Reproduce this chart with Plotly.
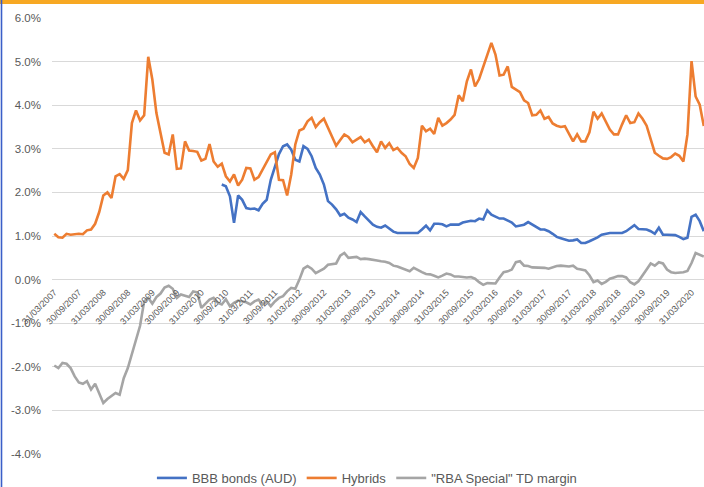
import pandas as pd
import plotly.graph_objects as go

# Month-end dates, Mar 2007 .. Jun 2020
dates = pd.date_range("2007-03-31", periods=160, freq="ME").strftime("%d/%m/%Y").tolist()
tick_labels = dates[::6]

y_tick_vals = [-4, -3, -2, -1, 0, 1, 2, 3, 4, 5, 6]
y_tick_text = ["-4.0%", "-3.0%", "-2.0%", "-1.0%", "0.0%", "1.0%", "2.0%", "3.0%", "4.0%", "5.0%", "6.0%"]

hybrids = [
    1.05, 0.97, 0.96, 1.05, 1.03, 1.04, 1.05, 1.04, 1.13, 1.15,
    1.28, 1.55, 1.93, 2.00, 1.87, 2.37, 2.42, 2.31, 2.51, 3.59,
    3.88, 3.65, 3.77, 5.11, 4.59, 3.82, 3.33, 2.91, 2.87, 3.33,
    2.54, 2.55, 3.17, 2.96, 2.95, 2.93, 2.73, 2.77, 3.11, 2.71,
    2.59, 2.66, 2.37, 2.25, 2.41, 2.16, 2.29, 2.56, 2.55, 2.29,
    2.35, 2.52, 2.68, 2.87, 2.92, 2.29, 2.28, 1.93, 2.41, 3.10,
    3.42, 3.46, 3.63, 3.71, 3.50, 3.61, 3.69, 3.48, 3.29, 3.07,
    3.20, 3.33, 3.27, 3.15, 3.21, 3.27, 3.15, 3.21, 3.06, 2.92,
    3.17, 3.02, 3.13, 2.97, 3.02, 2.91, 2.83, 2.65, 2.56, 2.79,
    3.53, 3.40, 3.46, 3.34, 3.71, 3.53, 3.59, 3.67, 3.78, 4.23,
    4.09, 4.55, 4.82, 4.43, 4.60, 4.86, 5.14, 5.43, 5.16, 4.68,
    4.70, 4.89, 4.42, 4.36, 4.30, 4.11, 4.05, 3.77, 3.78, 3.88,
    3.69, 3.73, 3.58, 3.53, 3.50, 3.52, 3.36, 3.17, 3.33, 3.17,
    3.17, 3.38, 3.85, 3.69, 3.81, 3.63, 3.44, 3.33, 3.33, 3.56,
    3.77, 3.59, 3.61, 3.81, 3.69, 3.53, 3.23, 2.91, 2.84, 2.78,
    2.77, 2.81, 2.89, 2.84, 2.71, 3.33, 5.01, 4.20, 4.01, 3.52,
]

bbb = [None] * 41 + [
    2.18, 2.14, 1.91, 1.30, 1.93, 1.83, 1.64, 1.62, 1.63,
    1.59, 1.74, 1.83, 2.29, 2.60, 2.88, 3.06, 3.10, 2.98, 2.75,
    2.71, 3.06, 3.00, 2.83, 2.56, 2.41, 2.18, 1.80, 1.72, 1.61,
    1.47, 1.51, 1.42, 1.38, 1.32, 1.55, 1.45, 1.36, 1.26, 1.21,
    1.19, 1.24, 1.16, 1.10, 1.07, 1.07, 1.07, 1.07, 1.07, 1.07,
    1.15, 1.24, 1.13, 1.28, 1.28, 1.27, 1.22, 1.26, 1.26, 1.26,
    1.31, 1.33, 1.35, 1.34, 1.40, 1.38, 1.59, 1.49, 1.45, 1.40,
    1.40, 1.36, 1.31, 1.22, 1.24, 1.26, 1.32, 1.26, 1.19, 1.15,
    1.15, 1.11, 1.05, 0.98, 0.95, 0.92, 0.89, 0.90, 0.92, 0.84,
    0.84, 0.88, 0.92, 0.97, 1.03, 1.05, 1.07, 1.07, 1.07, 1.07,
    1.11, 1.18, 1.25, 1.16, 1.15, 1.15, 1.11, 1.05, 1.19, 1.03,
    1.03, 1.03, 1.02, 0.98, 0.93, 0.96, 1.44, 1.49, 1.34, 1.11,
]

rba_td = [
    -1.97, -2.03, -1.91, -1.93, -2.03, -2.22, -2.36, -2.39, -2.33, -2.52,
    -2.39, -2.60, -2.83, -2.74, -2.66, -2.60, -2.64, -2.26, -2.03, -1.72,
    -1.38, -1.06, -0.50, -0.42, -0.55, -0.40, -0.32, -0.18, -0.14, -0.21,
    -0.42, -0.34, -0.37, -0.40, -0.27, -0.29, -0.65, -0.55, -0.46, -0.42,
    -0.53, -0.57, -0.45, -0.61, -0.53, -0.48, -0.50, -0.52, -0.57, -0.50,
    -0.46, -0.57, -0.50, -0.61, -0.50, -0.42, -0.38, -0.27, -0.19, -0.21,
    0.00, 0.25, 0.31, 0.25, 0.15, 0.20, 0.25, 0.34, 0.36, 0.37,
    0.55, 0.61, 0.50, 0.51, 0.52, 0.47, 0.48, 0.47, 0.46, 0.44,
    0.42, 0.41, 0.38, 0.32, 0.30, 0.26, 0.22, 0.19, 0.27, 0.21,
    0.17, 0.13, 0.12, 0.09, 0.05, 0.09, 0.14, 0.12, 0.07, 0.07,
    0.06, 0.05, 0.06, 0.02, -0.06, -0.12, -0.08, -0.08, -0.09, 0.05,
    0.17, 0.19, 0.23, 0.40, 0.42, 0.32, 0.31, 0.28, 0.28, 0.28,
    0.27, 0.25, 0.28, 0.31, 0.32, 0.31, 0.30, 0.32, 0.25, 0.23,
    0.21, 0.10, -0.06, -0.02, -0.10, -0.05, 0.02, 0.05, 0.08, 0.08,
    0.05, -0.06, -0.11, -0.04, 0.11, 0.23, 0.37, 0.32, 0.40, 0.37,
    0.23, 0.17, 0.15, 0.16, 0.17, 0.20, 0.38, 0.61, 0.57, 0.53,
]

series_names = ["BBB bonds (AUD)", "Hybrids", "\"RBA Special\" TD margin"]
series_colors = ["#4472C4", "#ED7D31", "#A5A5A5"]

FONT = "Liberation Sans"
TXT = "#595959"

fig = go.Figure()
for name, vals, col in zip(series_names, [bbb, hybrids, rba_td], series_colors):
    fig.add_trace(go.Scatter(
        x=dates, y=vals, name=name, mode="lines",
        line=dict(color=col, width=2.6), connectgaps=False,
    ))

fig.update_layout(
    width=704, height=487,
    margin=dict(l=52, r=0, t=18, b=33, autoexpand=False),
    paper_bgcolor="white", plot_bgcolor="white",
    font=dict(family=FONT, color=TXT, size=11),
    showlegend=True,
    legend=dict(
        orientation="h", x=0.483, xanchor="center", y=-0.055, yanchor="middle",
        font=dict(size=13, color=TXT, family=FONT),
        itemwidth=30, tracegroupgap=0,
    ),
    xaxis=dict(
        type="category", anchor="free", position=0.4, automargin=False,
        range=[-0.56, 159.05],
        tickmode="array", tickvals=tick_labels, ticktext=tick_labels,
        tickangle=-45, tickfont=dict(size=9, color=TXT, family=FONT),
        showgrid=False, showline=False, ticks="", zeroline=False,
        ticklabelstandoff=5,
    ),
    yaxis=dict(
        range=[-4, 6], automargin=False,
        tickmode="array", tickvals=y_tick_vals, ticktext=y_tick_text,
        tickfont=dict(size=11.5, color=TXT, family=FONT),
        showgrid=True, gridcolor="#D9D9D9", gridwidth=1,
        zeroline=False, showline=False, ticks="", ticklabelstandoff=10,
    ),
    shapes=[
        dict(type="rect", xref="paper", yref="paper", x0=-0.2, x1=1.05,
             y0=1.0 + 14 / 436, y1=1.0 + 18 / 436 + 0.01,
             fillcolor="#F7A823", line=dict(width=0), layer="above"),
        dict(type="line", xref="paper", yref="paper",
             x0=-50.5 / 652, x1=-50.5 / 652, y0=-33 / 436, y1=1.0 + 18 / 436,
             line=dict(color="#3A5FC8", width=1.6)),
    ],
)

fig.write_html(
    "out.html",
    config={"displayModeBar": False},
    post_script="document.body.style.margin='0';document.body.style.overflow='hidden';",
)
